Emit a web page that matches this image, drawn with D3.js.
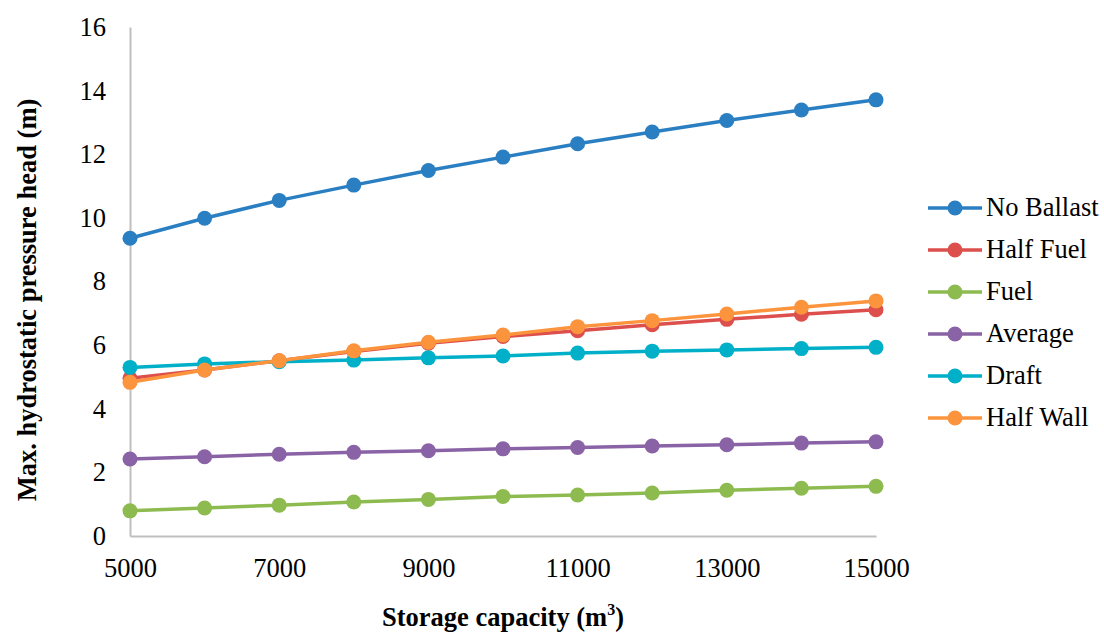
<!DOCTYPE html>
<html>
<head>
<meta charset="utf-8">
<script src="https://cdn.jsdelivr.net/npm/d3@7"></script>
<style>
  body { margin: 0; background: #fff; }
</style>
</head>
<body>
<svg></svg>
<script>
// storage capacity (m3)
const capacities = [5000, 6000, 7000, 8000, 9000, 10000, 11000, 12000, 13000, 14000, 15000];

const noBallast = [9.36, 9.99, 10.55, 11.03, 11.49, 11.91, 12.33, 12.70, 13.06, 13.39, 13.71];
const halfFuel  = [4.96, 5.22, 5.51, 5.80, 6.06, 6.27, 6.45, 6.64, 6.81, 6.97, 7.11];
const fuel      = [0.79, 0.88, 0.97, 1.07, 1.15, 1.24, 1.29, 1.35, 1.44, 1.50, 1.56];
const average   = [2.42, 2.49, 2.57, 2.63, 2.68, 2.74, 2.78, 2.83, 2.87, 2.92, 2.96];
const draft     = [5.30, 5.41, 5.48, 5.53, 5.60, 5.66, 5.75, 5.81, 5.85, 5.89, 5.93];
const halfWall  = [4.83, 5.22, 5.51, 5.82, 6.09, 6.32, 6.58, 6.77, 6.98, 7.19, 7.39];

const seriesNames  = ["No Ballast", "Half Fuel", "Fuel", "Average", "Draft", "Half Wall"];
const seriesValues = [noBallast, halfFuel, fuel, average, draft, halfWall];
const seriesColors = ["#2A7FC2", "#DC4F4C", "#8DBB4F", "#8A63A6", "#00AFC8", "#FC943E"];

const xTicks = [5000, 7000, 9000, 11000, 13000, 15000];
const yTicks = [0, 2, 4, 6, 8, 10, 12, 14, 16];

const serif = "Liberation Serif, Times New Roman, serif";
const fontSize = 26.5;

window.onload = function() {
    const svg = d3.select("svg")
        .attr("width", 1104)
        .attr("height", 632)
        .style("display", "block");

    const x = d3.scaleLinear().domain([5000, 15000]).range([130, 876]);
    const y = d3.scaleLinear().domain([0, 16]).range([536, 27]);

    // axes
    const xAxis = svg.append("g")
        .attr("transform", "translate(0," + y(0) + ")")
        .call(d3.axisBottom(x).tickValues(xTicks).tickSize(0).tickPadding(22).tickFormat(d3.format("d")));
    const yAxis = svg.append("g")
        .attr("transform", "translate(" + x(5000) + ",0)")
        .call(d3.axisLeft(y).tickValues(yTicks).tickSize(0).tickPadding(24));

    [xAxis, yAxis].forEach(function(ax) {
        ax.attr("font-family", serif).attr("font-size", fontSize);
        ax.select(".domain").attr("stroke", "#BFBFBF").attr("stroke-width", 2);
        ax.selectAll("text").attr("fill", "#000");
    });

    // lines + markers
    const line = d3.line()
        .x(function(d, i) { return x(capacities[i]); })
        .y(function(d) { return y(d); });

    seriesValues.forEach(function(vals, k) {
        svg.append("path")
            .datum(vals)
            .attr("d", line)
            .attr("fill", "none")
            .attr("stroke", seriesColors[k])
            .attr("stroke-width", 3.5);
        svg.selectAll(".pt" + k)
            .data(vals)
            .join("circle")
            .attr("class", "pt" + k)
            .attr("cx", function(d, i) { return x(capacities[i]); })
            .attr("cy", function(d) { return y(d); })
            .attr("r", 7.5)
            .attr("fill", seriesColors[k]);
    });

    // axis titles
    const xTitle = svg.append("text")
        .attr("x", 503)
        .attr("y", 626)
        .attr("text-anchor", "middle")
        .attr("font-family", serif)
        .attr("font-size", fontSize)
        .attr("font-weight", "bold");
    xTitle.append("tspan").text("Storage capacity (m");
    xTitle.append("tspan").attr("font-size", 16).attr("dy", -11).text("3");
    xTitle.append("tspan").attr("dy", 11).text(")");

    svg.append("text")
        .attr("transform", "translate(36,300) rotate(-90)")
        .attr("text-anchor", "middle")
        .attr("font-family", serif)
        .attr("font-size", fontSize)
        .attr("font-weight", "bold")
        .text("Max. hydrostatic pressure head (m)");

    // legend
    const legend = svg.append("g");
    seriesNames.forEach(function(name, k) {
        const ly = 208 + k * 42;
        legend.append("line")
            .attr("x1", 928).attr("x2", 982)
            .attr("y1", ly).attr("y2", ly)
            .attr("stroke", seriesColors[k])
            .attr("stroke-width", 3.5);
        legend.append("circle")
            .attr("cx", 955).attr("cy", ly).attr("r", 7.5)
            .attr("fill", seriesColors[k]);
        legend.append("text")
            .attr("x", 986).attr("y", ly + 8)
            .attr("font-family", serif)
            .attr("font-size", fontSize)
            .text(name);
    });
};
</script>
</body>
</html>
